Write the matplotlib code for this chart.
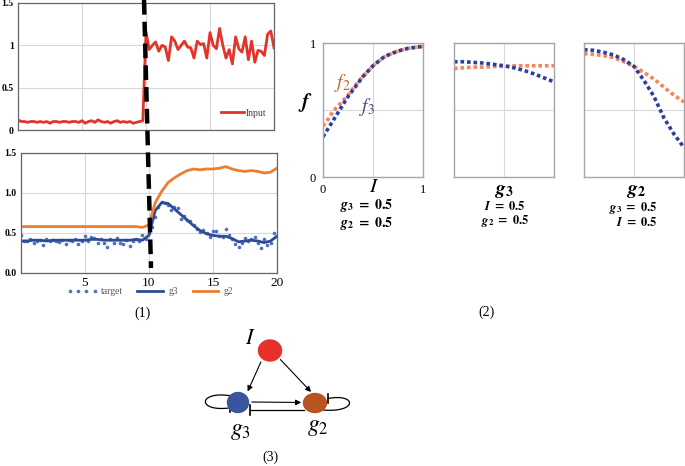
import numpy as np
import matplotlib
matplotlib.use("Agg")
import matplotlib.pyplot as plt
from matplotlib.patches import Ellipse, PathPatch
from matplotlib.path import Path

plt.rcParams["font.family"] = ["Liberation Serif", "DejaVu Serif"]
plt.rcParams["mathtext.fontset"] = "custom"
plt.rcParams["mathtext.rm"] = "STIXGeneral"
plt.rcParams["mathtext.it"] = "STIXGeneral:italic"
plt.rcParams["mathtext.bf"] = "STIXGeneral:italic:bold"
plt.rcParams["mathtext.sf"] = "STIXGeneral:bold"

# ---- (1) time series -------------------------------------------------------
input_before = [0.12, 0.10, 0.10, 0.09, 0.10, 0.10, 0.09, 0.10, 0.09, 0.10,
                0.08, 0.10, 0.10, 0.09, 0.10, 0.10, 0.09, 0.10, 0.10, 0.09,
                0.11, 0.08, 0.10, 0.11, 0.09, 0.12, 0.10, 0.09, 0.10, 0.08,
                0.10, 0.11, 0.09, 0.10, 0.09, 0.10, 0.08, 0.09, 0.10, 0.11]
input_after = [1.16, 0.95, 1.00, 1.04, 0.93, 1.00, 0.98, 0.82, 1.10, 1.05,
               0.95, 1.00, 1.05, 0.98, 0.97, 0.85, 1.05, 1.01, 1.02, 0.85,
               1.15, 1.00, 0.96, 1.20, 1.00, 0.85, 0.95, 0.78, 1.10, 0.96,
               0.92, 1.10, 0.83, 1.05, 0.80, 0.94, 0.93, 0.88, 1.13, 1.17,
               0.97]
input_v = input_before + input_after
input_t = np.linspace(0, 20, len(input_v))

target_v = [0.47, 0.40, 0.40, 0.42, 0.38, 0.40, 0.41, 0.35, 0.42, 0.40,
            0.41, 0.40, 0.39, 0.41, 0.36, 0.41, 0.40, 0.42, 0.36, 0.40,
            0.46, 0.40, 0.45, 0.44, 0.38, 0.42, 0.38, 0.33, 0.43, 0.38,
            0.44, 0.37, 0.36, 0.41, 0.34, 0.40, 0.43, 0.40, 0.47, 0.42,
            0.50, 0.58, 0.70, 0.82, 0.89, 0.87, 0.85, 0.79, 0.82, 0.81,
            0.68, 0.71, 0.66, 0.65, 0.60, 0.55, 0.51, 0.54, 0.50, 0.45,
            0.53, 0.53, 0.46, 0.45, 0.55, 0.47, 0.42, 0.36, 0.32, 0.37,
            0.44, 0.40, 0.42, 0.45, 0.37, 0.31, 0.42, 0.35, 0.37, 0.50,
            0.46]
target_t = np.linspace(0, 20, len(target_v))

g3_v = [0.40, 0.40, 0.41, 0.41, 0.40, 0.41, 0.41, 0.41, 0.41, 0.41,
        0.41, 0.42, 0.42, 0.41, 0.41, 0.41, 0.41, 0.41, 0.42, 0.41,
        0.47, 0.78, 0.88, 0.87, 0.80, 0.73, 0.66, 0.59, 0.53, 0.49,
        0.47, 0.46, 0.46, 0.43, 0.39, 0.40, 0.41, 0.40, 0.38, 0.40,
        0.46]
g2_v = [0.58, 0.58, 0.58, 0.58, 0.58, 0.58, 0.58, 0.58, 0.58, 0.58,
        0.58, 0.58, 0.58, 0.58, 0.58, 0.58, 0.58, 0.58, 0.58, 0.57,
        0.60, 0.88, 1.02, 1.13, 1.19, 1.24, 1.28, 1.30, 1.29, 1.30,
        1.30, 1.31, 1.33, 1.30, 1.28, 1.27, 1.28, 1.27, 1.25, 1.26,
        1.31]
line_t = np.linspace(0, 20, len(g3_v))

# ---- (2) response curves ---------------------------------------------------
I_x = np.linspace(0, 1, 21)
f2_I = [0.38, 0.43, 0.49, 0.53, 0.57, 0.61, 0.66, 0.71, 0.75, 0.79, 0.83,
        0.86, 0.89, 0.91, 0.925, 0.94, 0.95, 0.96, 0.965, 0.97, 0.975]
f3_I = [0.30, 0.36, 0.42, 0.48, 0.54, 0.60, 0.65, 0.70, 0.75, 0.79, 0.83,
        0.86, 0.89, 0.91, 0.925, 0.94, 0.95, 0.96, 0.965, 0.97, 0.975]
g_x = np.linspace(0, 1, 11)
f2_g3 = [0.81, 0.815, 0.82, 0.82, 0.825, 0.825, 0.83, 0.83, 0.83, 0.83, 0.83]
f3_g3 = [0.86, 0.86, 0.855, 0.85, 0.84, 0.83, 0.815, 0.795, 0.77, 0.74, 0.71]
f2_g2 = [0.92, 0.915, 0.905, 0.89, 0.86, 0.825, 0.78, 0.73, 0.67, 0.61, 0.56]
f3_g2 = [0.95, 0.945, 0.93, 0.91, 0.875, 0.825, 0.72, 0.60, 0.44, 0.32, 0.22]

W, H = 685, 466


def box(l, t, r, b):
    return [l / W, 1 - b / H, (r - l) / W, (b - t) / H]


fig = plt.figure(figsize=(W / 100, H / 100), dpi=100)

c_in = "#e3342a"
c_g3 = "#2f4b94"
c_tg = "#4a72c4"
c_g2 = "#ed7d31"
grid_c = "#d9d9d9"

# ---- Panel (1) top: input ---------------------------------------------------
ax_in = fig.add_axes(box(18, 3, 274, 130))
ax_in.plot(input_t, input_v, color=c_in, lw=2, label="Input")
ax_in.set_xlim(0, 20)
ax_in.set_ylim(0, 1.5)
ax_in.set_xticks([5, 10, 15])
ax_in.set_xticklabels([])
ax_in.set_yticks([0, 0.5, 1, 1.5])
ax_in.set_yticklabels(["0", "0.5", "1", "1.5"], fontsize=7, fontweight="bold")
ax_in.tick_params(length=0, pad=3)
ax_in.grid(color=grid_c, lw=0.8)
for s in ax_in.spines.values():
    s.set_color("#666666")
    s.set_linewidth(0.9)
ax_in.legend(loc="center left", bbox_to_anchor=((212 - 18) / 256, (130 - 113) / 127),
             frameon=False, fontsize=7, handlelength=2.4, handletextpad=0.2,
             labelcolor="#404040")

# ---- Panel (1) bottom: g3 / g2 ---------------------------------------------
ax_g = fig.add_axes(box(20.7, 153, 277, 273))
ax_g.plot(target_t, target_v, "o", ms=2.6, color=c_tg, mec="none", label="target")
ax_g.plot(line_t, g3_v, color=c_g3, lw=2, label="g3")
ax_g.plot(line_t, g2_v, color=c_g2, lw=2, label="g2")
ax_g.set_xlim(0, 20)
ax_g.set_ylim(0, 1.5)
ax_g.set_xticks([5, 10, 15, 20])
ax_g.set_xticklabels(["5", "10", "15", "20"], fontsize=9.5)
ax_g.set_yticks([0, 0.5, 1, 1.5])
ax_g.set_yticklabels(["0.0", "0.5", "1.0", "1.5"], fontsize=7, fontweight="bold")
ax_g.tick_params(length=0, pad=3)
ax_g.grid(color=grid_c, lw=0.8)
for s in ax_g.spines.values():
    s.set_color("#666666")
    s.set_linewidth(0.9)
h, l = ax_g.get_legend_handles_labels()
fig.legend(h, l, loc="center", bbox_to_anchor=(150 / W, 1 - 292 / H), ncol=3,
           frameon=False, fontsize=7, numpoints=4, handlelength=3.2,
           columnspacing=1.2, handletextpad=0.3, labelcolor="#595959")

# ---- Panel (2) --------------------------------------------------------------
c_o = "#f7845e"
c_b = "#2b3f9e"
boxes = [(323, 43, 423, 177), (454, 43, 554, 177), (584, 43, 684, 177)]
curves = [(I_x, f2_I, f3_I), (g_x, f2_g3, f3_g3), (g_x, f2_g2, f3_g2)]
for i, (bx, (xx, fo, fb)) in enumerate(zip(boxes, curves)):
    ax = fig.add_axes(box(*bx))
    ax.plot(xx, fo, color=c_o, lw=2.6, linestyle=(0, (1, 0.8)), solid_capstyle="butt")
    ax.plot(xx, fb, color=c_b, lw=2.6, linestyle=(0, (1, 0.8)), solid_capstyle="butt")
    ax.set_xlim(0, 1)
    ax.set_ylim(0, 1)
    ax.set_xticks([0, 0.5, 1])
    ax.set_yticks([0, 0.5, 1])
    if i == 0:
        ax.set_xticklabels(["0", "", "1"], fontsize=9)
        ax.set_yticklabels(["0", "", "1"], fontsize=9)
    else:
        ax.set_xticklabels([])
        ax.set_yticklabels([])
    ax.tick_params(length=0, pad=5)
    ax.grid(color=grid_c, lw=0.8)
    for s in ax.spines.values():
        s.set_color("#a6a6a6")
        s.set_linewidth(1.0)

# ---- Overlay: dashed marker, labels, network ------------------------------
ov = fig.add_axes([0, 0, 1, 1])
ov.set_xlim(0, W)
ov.set_ylim(H, 0)
ov.axis("off")

ov.plot([144, 151], [0, 268], color="k", lw=3.2, linestyle=(0, (3.3, 1.6)),
        solid_capstyle="butt", clip_on=False)

ov.text(143, 313, "(1)", ha="center", va="center", fontsize=10)
ov.text(487, 312, "(2)", ha="center", va="center", fontsize=10)
ov.text(270, 457, "(3)", ha="center", va="center", fontsize=10)

ov.text(305, 103, r"$\mathbf{f}$", ha="center", va="center", fontsize=15)
ov.text(342, 83, r"$f_2$", ha="center", va="center", fontsize=14, color="#c0622a")
ov.text(367, 107, r"$f_3$", ha="center", va="center", fontsize=14, color="#3c4a8c")

ov.text(374, 187, r"$I$", ha="center", va="center", fontsize=15)
ov.text(367, 205, r"$\mathbf{g}_\mathsf{3}\mathsf{\ =\ 0.5}$", ha="center", va="center", fontsize=10)
ov.text(367, 223, r"$\mathbf{g}_\mathsf{2}\mathsf{\ =\ 0.5}$", ha="center", va="center", fontsize=10)

ov.text(504, 192, r"$\mathbf{g}_\mathsf{3}$", ha="center", va="center", fontsize=14)
ov.text(505, 207, r"$\mathbf{I}\mathsf{\ =\ 0.5}$", ha="center", va="center", fontsize=9)
ov.text(505, 221, r"$\mathbf{g}_\mathsf{2}\mathsf{\ =\ 0.5}$", ha="center", va="center", fontsize=9)

ov.text(636, 192, r"$\mathbf{g}_\mathsf{2}$", ha="center", va="center", fontsize=14)
ov.text(633, 208, r"$\mathbf{g}_\mathsf{3}\mathsf{\ =\ 0.5}$", ha="center", va="center", fontsize=9)
ov.text(637, 223, r"$\mathbf{I}\mathsf{\ =\ 0.5}$", ha="center", va="center", fontsize=9)

# network diagram (3)
ov.add_patch(Ellipse((270, 350.5), 23, 21, color="#e8302a", zorder=3))
ov.add_patch(Ellipse((238, 402.5), 21, 20, color="#3a559e", zorder=3))
ov.add_patch(Ellipse((315, 403), 23, 19, color="#b8541f", zorder=3))

arrow_kw = dict(arrowstyle="-|>", color="k", lw=0.8, mutation_scale=8)
ov.annotate("", xy=(246.5, 394), xytext=(262, 359.5), arrowprops=arrow_kw)
ov.annotate("", xy=(313, 394), xytext=(278.5, 357.5), arrowprops=arrow_kw)
ov.annotate("", xy=(304, 402.5), xytext=(249, 402), arrowprops=arrow_kw)

ov.plot([250, 304], [409.5, 409.5], color="k", lw=0.9)
ov.plot([250, 250], [405, 415], color="k", lw=1.2)

loop_b = Path([(232, 396), (198, 390), (196, 412), (229, 408)],
              [Path.MOVETO, Path.CURVE4, Path.CURVE4, Path.CURVE4])
ov.add_patch(PathPatch(loop_b, fill=False, lw=0.9, color="k", zorder=2))
ov.plot([230, 230], [403, 412], color="k", lw=1.2)

loop_o = Path([(323, 410), (358, 413), (357, 393), (328, 398.5)],
              [Path.MOVETO, Path.CURVE4, Path.CURVE4, Path.CURVE4])
ov.add_patch(PathPatch(loop_o, fill=False, lw=0.9, color="k", zorder=2))
ov.plot([328, 328], [394, 403], color="k", lw=1.2)

ov.text(250, 340, r"$I$", ha="center", va="center", fontsize=16)
ov.text(240, 431, r"$g_3$", ha="center", va="center", fontsize=17)
ov.text(318, 428, r"$g_2$", ha="center", va="center", fontsize=17)

fig.savefig("out.png", dpi=100)
